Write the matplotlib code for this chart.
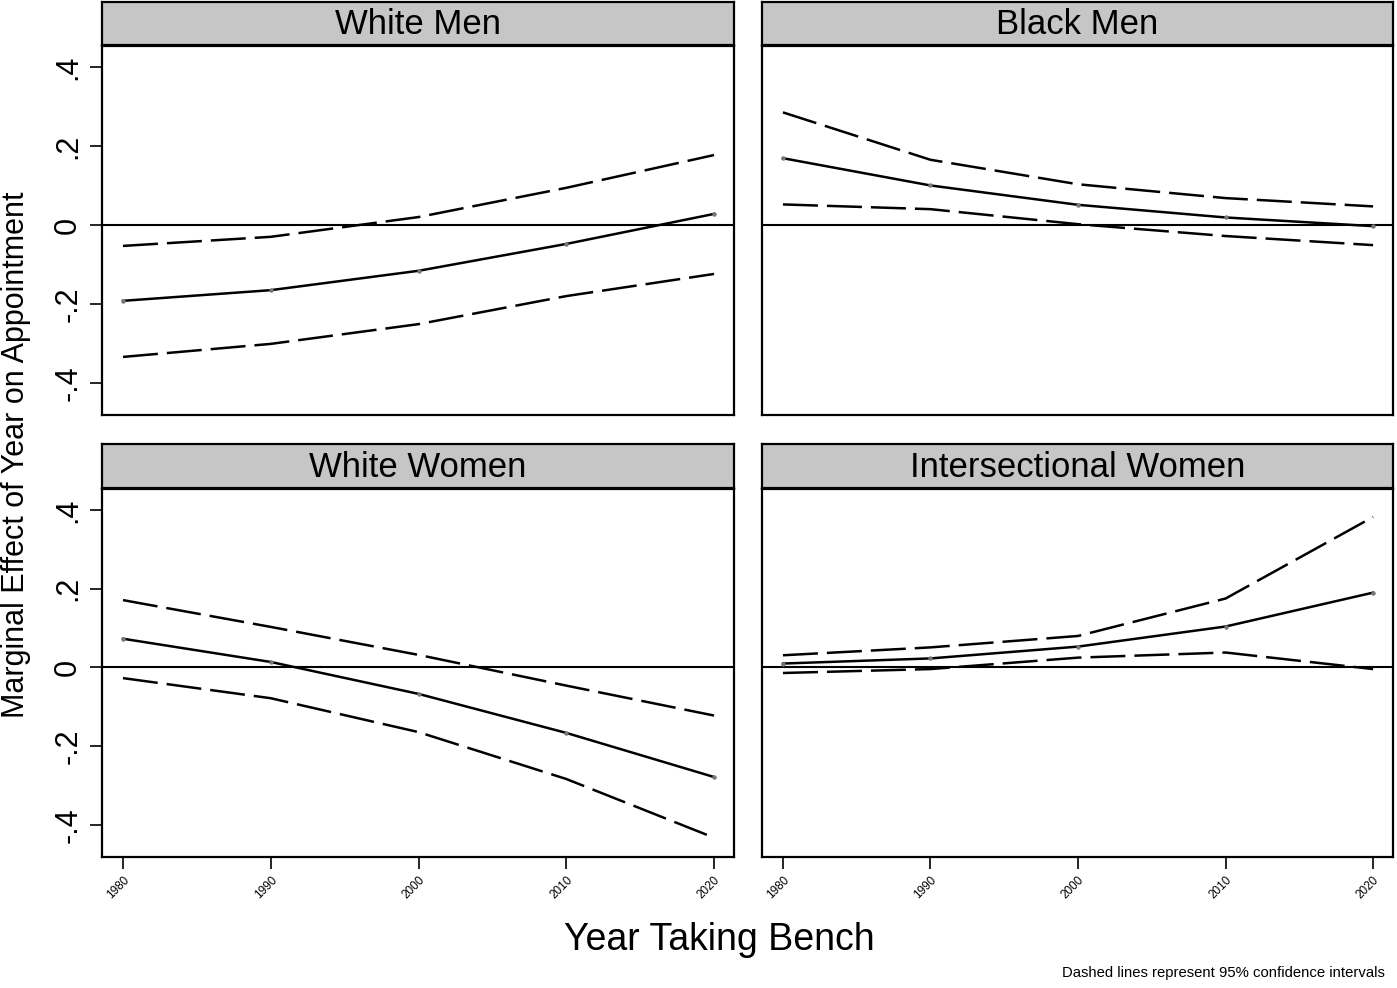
import matplotlib.pyplot as plt

plt.rcParams['font.family'] = ['Liberation Sans', 'DejaVu Sans']

years = [1980, 1990, 2000, 2010, 2020]
panel_titles = ["White Men", "Black Men", "White Women", "Intersectional Women"]

# marginal effect (solid) and 95% CI bounds (dashed)
white_men_est = [-0.192, -0.165, -0.116, -0.048, 0.028]
white_men_hi = [-0.053, -0.030, 0.020, 0.094, 0.177]
white_men_lo = [-0.334, -0.301, -0.251, -0.180, -0.124]

black_men_est = [0.169, 0.100, 0.051, 0.019, -0.003]
black_men_hi = [0.285, 0.165, 0.103, 0.068, 0.047]
black_men_lo = [0.052, 0.040, 0.002, -0.028, -0.051]

white_women_est = [0.073, 0.014, -0.067, -0.166, -0.278]
white_women_hi = [0.171, 0.103, 0.032, -0.046, -0.122]
white_women_lo = [-0.027, -0.078, -0.164, -0.283, -0.432]

inter_women_est = [0.010, 0.023, 0.053, 0.104, 0.190]
inter_women_hi = [0.031, 0.051, 0.080, 0.175, 0.382]
inter_women_lo = [-0.014, -0.004, 0.025, 0.038, -0.004]

panels = [
    (white_men_est, white_men_lo, white_men_hi),
    (black_men_est, black_men_lo, black_men_hi),
    (white_women_est, white_women_lo, white_women_hi),
    (inter_women_est, inter_women_lo, inter_women_hi),
]

yticks = [-0.4, -0.2, 0, 0.2, 0.4]
ytick_labels = ["-.4", "-.2", "0", ".2", ".4"]

fig = plt.figure(figsize=(13.97, 9.88), dpi=100)
W, H = 1397, 988

# pixel boxes: (left, top, right, bottom)
plot_boxes = [(102, 46, 734, 415), (762, 46, 1393, 415),
              (102, 489, 734, 857), (762, 489, 1393, 857)]
strip_boxes = [(102, 2, 734, 45), (762, 2, 1393, 45),
               (102, 444, 734, 488), (762, 444, 1393, 488)]

def to_frac(box):
    l, t, r, b = box
    return [l / W, 1 - b / H, (r - l) / W, (b - t) / H]

for i, (est, lo, hi) in enumerate(panels):
    ax = fig.add_axes(to_frac(plot_boxes[i]))
    ax.axhline(0, color='black', lw=1.5, zorder=1)
    ax.plot(years, hi, color='black', lw=1.8, dashes=(14, 3.6))
    ax.plot(years, lo, color='black', lw=1.8, dashes=(14, 3.6))
    ax.plot(years, est, color='black', lw=1.8, marker='o', ms=2.2,
            mfc='#777777', mec='#777777')
    ax.set_xlim(1978.58, 2021.35)
    ax.set_ylim(-0.481, 0.453)
    for s in ax.spines.values():
        s.set_linewidth(1.6)
    ax.set_xticks(years)
    ax.set_yticks(yticks)
    if i % 2 == 0:
        ax.set_yticklabels(ytick_labels, rotation=90, va='center', fontsize=22)
        ax.tick_params(axis='y', length=8.5, width=1.2, pad=5)
    else:
        ax.tick_params(axis='y', left=False, labelleft=False)
    if i >= 2:
        ax.set_xticklabels([str(y) for y in years], rotation=45, ha='right',
                           va='top', rotation_mode='anchor', fontsize=8.5)
        ax.tick_params(axis='x', length=8.5, width=1.2, pad=4)
    else:
        ax.tick_params(axis='x', bottom=False, labelbottom=False)

    sax = fig.add_axes(to_frac(strip_boxes[i]))
    sax.set_facecolor('#c6c6c6')
    sax.set_xticks([])
    sax.set_yticks([])
    for s in sax.spines.values():
        s.set_linewidth(1.6)
    sax.text(0.5, 0.47, panel_titles[i], ha='center', va='center',
             fontsize=25, transform=sax.transAxes)

fig.text(0.0115, 1 - 455 / H, "Marginal Effect of Year on Appointment",
         rotation=90, ha='center', va='center', fontsize=22)
fig.text(719 / W, 1 - 940 / H, "Year Taking Bench", ha='center', va='center',
         fontsize=27)
fig.text(1385 / W, 1 - 973 / H, "Dashed lines represent 95% confidence intervals",
         ha='right', va='center', fontsize=10.7)

fig.savefig("out.png", dpi=100)
